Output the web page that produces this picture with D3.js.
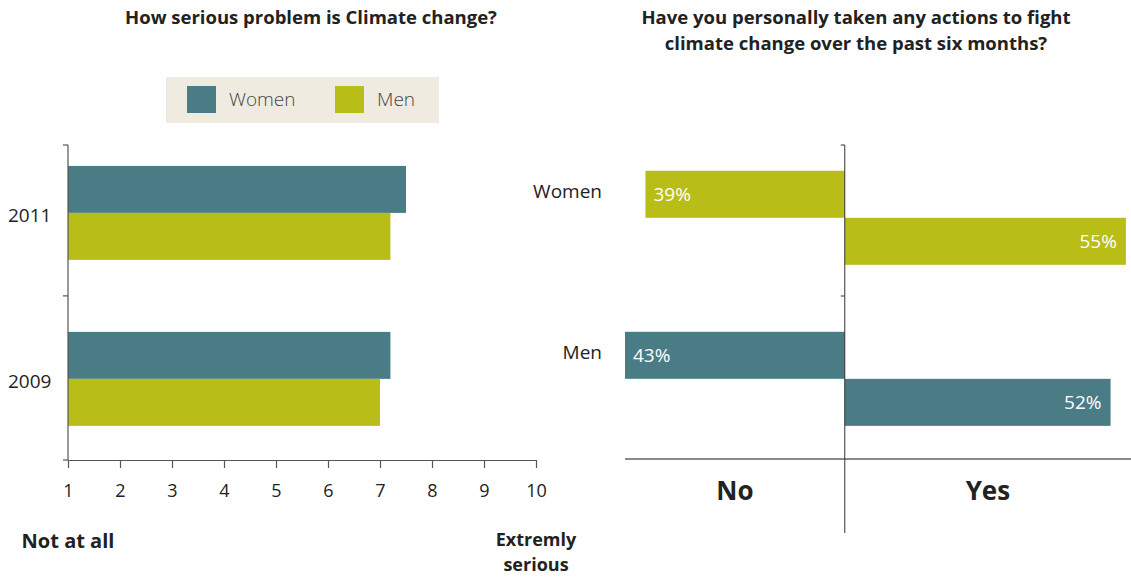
<!DOCTYPE html>
<html>
<head>
<meta charset="utf-8">
<script src="https://cdn.jsdelivr.net/npm/d3@7"></script>
<style>
  body { margin: 0; background: #fff; }
  svg { display: block; font-family: "Open Sans", sans-serif; }
</style>
</head>
<body>
<div id="main-div"></div>
<script>
// data
const years = ["2011", "2009"]
const seriousWomen = [7.5, 7.2]
const seriousMen = [7.2, 7.0]
const scoreTicks = [1, 2, 3, 4, 5, 6, 7, 8, 9, 10]

const groups = ["Women", "Men"]
const actionNo = [39, 43]
const actionYes = [55, 52]

const teal = "#4a7c86"
const olive = "#b9bd17"

let width = 1131
let height = 578

var svg = d3.select("#main-div")
  .append("svg")
  .attr("width", width)
  .attr("height", height)

// ---------- left chart ----------
let x = d3.scaleLinear().domain([1, 10]).range([68, 536])
let y = d3.scaleBand().domain(years).range([145, 460])
  .paddingInner(0.434).paddingOuter(0.166).align(0.38)
let sub = d3.scaleBand().domain(["Women", "Men"]).range([0, y.bandwidth()])

svg.append("text")
  .attr("x", 311).attr("y", 24)
  .attr("text-anchor", "middle")
  .attr("font-weight", "bold")
  .attr("font-size", 18.5)
  .attr("fill", "#222")
  .text("How serious problem is Climate change?")

// legend
let legend = svg.append("g")
legend.append("rect")
  .attr("x", 166).attr("y", 77)
  .attr("width", 273).attr("height", 46)
  .attr("fill", "#efebe1")
let legendItems = [{name: "Women", color: teal, x: 187}, {name: "Men", color: olive, x: 335}]
legendItems.forEach(d => {
  legend.append("rect")
    .attr("x", d.x).attr("y", 86)
    .attr("width", 29).attr("height", 27)
    .attr("fill", d.color)
  legend.append("text")
    .attr("x", d.x + 42).attr("y", 99)
    .attr("dy", "0.35em")
    .attr("font-size", 19)
    .attr("font-weight", 300)
    .attr("fill", "#444")
    .text(d.name)
})

let left = svg.append("g")
years.forEach((yr, i) => {
  left.append("rect")
    .attr("x", x(1)).attr("y", y(yr) + sub("Women"))
    .attr("width", x(seriousWomen[i]) - x(1))
    .attr("height", sub.bandwidth())
    .attr("fill", teal)
  left.append("rect")
    .attr("x", x(1)).attr("y", y(yr) + sub("Men"))
    .attr("width", x(seriousMen[i]) - x(1))
    .attr("height", sub.bandwidth())
    .attr("fill", olive)
})

// y axis line and boundary ticks
let bounds = [145, (y("2011") + y.bandwidth() + y("2009")) / 2, 460]
left.append("line")
  .attr("x1", x(1)).attr("x2", x(1))
  .attr("y1", 145).attr("y2", 460)
  .attr("stroke", "#555").attr("stroke-width", 1.2)
left.selectAll(".ytick").data(bounds).join("line")
  .attr("x1", x(1) - 5).attr("x2", x(1))
  .attr("y1", d => d).attr("y2", d => d)
  .attr("stroke", "#555").attr("stroke-width", 1.2)
left.selectAll(".ylab").data(years).join("text")
  .attr("x", 8)
  .attr("y", d => y(d) + y.bandwidth() / 2 + 2)
  .attr("dy", "0.35em")
  .attr("font-size", 19)
  .attr("fill", "#222")
  .text(d => d)

let xAxis = left.append("g")
  .attr("transform", "translate(0,460)")
  .call(d3.axisBottom(x).tickValues(scoreTicks).tickSize(8).tickPadding(16).tickSizeOuter(0))
xAxis.select(".domain").attr("stroke", "#555").attr("stroke-width", 1.2)
xAxis.selectAll(".tick line").attr("stroke", "#555").attr("stroke-width", 1.2)
xAxis.selectAll(".tick text")
  .attr("font-size", 18).attr("fill", "#222")
  .attr("font-family", "Open Sans, sans-serif")

left.append("text")
  .attr("x", x(1)).attr("y", 548)
  .attr("text-anchor", "middle")
  .attr("font-weight", "bold").attr("font-size", 20).attr("fill", "#222")
  .text("Not at all")
left.append("text")
  .attr("x", x(10)).attr("y", 546)
  .attr("text-anchor", "middle")
  .attr("font-weight", "bold").attr("font-size", 18).attr("fill", "#222")
  .text("Extremly")
left.append("text")
  .attr("x", x(10)).attr("y", 571)
  .attr("text-anchor", "middle")
  .attr("font-weight", "bold").attr("font-size", 18).attr("fill", "#222")
  .text("serious")

// ---------- right chart ----------
let xr = d3.scaleLinear().domain([-43, 56]).range([625, 1131])
let yr = d3.scaleBand().domain(groups).range([145, 460])
  .paddingInner(0.416).paddingOuter(0.186).align(0.43)
let subR = d3.scaleBand().domain(["No", "Yes"]).range([0, yr.bandwidth()])
let rightColors = {Women: olive, Men: teal}

let right = svg.append("g")
right.append("text")
  .attr("text-anchor", "middle")
  .attr("font-weight", "bold").attr("font-size", 18.5).attr("fill", "#222")
  .selectAll("tspan")
  .data(["Have you personally taken any actions to fight", "climate change over the past six months?"])
  .join("tspan")
  .attr("x", 856)
  .attr("y", (d, i) => 24 + i * 26)
  .text(d => d)

groups.forEach((g, i) => {
  let top = yr(g)
  right.append("rect")
    .attr("x", xr(-actionNo[i])).attr("y", top + subR("No"))
    .attr("width", xr(0) - xr(-actionNo[i]))
    .attr("height", subR.bandwidth())
    .attr("fill", rightColors[g])
  right.append("rect")
    .attr("x", xr(0)).attr("y", top + subR("Yes"))
    .attr("width", xr(actionYes[i]) - xr(0))
    .attr("height", subR.bandwidth())
    .attr("fill", rightColors[g])
  right.append("text")
    .attr("x", xr(-actionNo[i]) + 8)
    .attr("y", top + subR("No") + subR.bandwidth() / 2)
    .attr("dy", "0.35em")
    .attr("font-size", 19).attr("fill", "#fff")
    .text(actionNo[i] + "%")
  right.append("text")
    .attr("x", xr(actionYes[i]) - 9)
    .attr("y", top + subR("Yes") + subR.bandwidth() / 2)
    .attr("dy", "0.35em")
    .attr("text-anchor", "end")
    .attr("font-size", 19).attr("fill", "#fff")
    .text(actionYes[i] + "%")
  right.append("text")
    .attr("x", 602)
    .attr("y", top + subR.bandwidth() / 2 - 3)
    .attr("dy", "0.35em")
    .attr("text-anchor", "end")
    .attr("font-size", 19).attr("fill", "#222")
    .text(g)
})

// axes of right chart
right.append("line")
  .attr("x1", 625).attr("x2", 1131)
  .attr("y1", 459).attr("y2", 459)
  .attr("stroke", "#8a8a8a").attr("stroke-width", 2)
right.append("line")
  .attr("x1", xr(0)).attr("x2", xr(0))
  .attr("y1", 145).attr("y2", 533)
  .attr("stroke", "#333").attr("stroke-width", 1)
right.selectAll(".rtick").data([145, 296]).join("line")
  .attr("x1", xr(0) - 4).attr("x2", xr(0))
  .attr("y1", d => d).attr("y2", d => d)
  .attr("stroke", "#333")

right.append("text")
  .attr("x", (xr(-43) + xr(0)) / 2).attr("y", 500)
  .attr("text-anchor", "middle")
  .attr("font-weight", "bold").attr("font-size", 26).attr("fill", "#222")
  .text("No")
right.append("text")
  .attr("x", (xr(0) + 1131) / 2).attr("y", 500)
  .attr("text-anchor", "middle")
  .attr("font-weight", "bold").attr("font-size", 26).attr("fill", "#222")
  .text("Yes")
</script>
</body>
</html>
